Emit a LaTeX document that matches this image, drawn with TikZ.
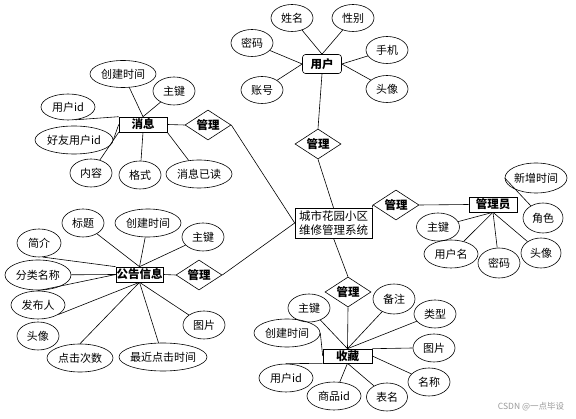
\documentclass[tikz,border=0pt]{standalone}
\usepackage{fontspec}
\setmainfont{Noto Sans CJK SC}
\usetikzlibrary{shapes.geometric}
\begin{document}
\begin{tikzpicture}[x=1pt,y=-1pt,line width=0.6pt,
  attr/.style={ellipse,draw,inner xsep=-6pt,inner ysep=0pt,minimum height=28,font=\fontsize{11}{12}\selectfont},
  ent/.style={rectangle,draw,inner sep=0.5pt,minimum height=15,font=\bfseries\fontsize{11.5}{13}\selectfont},
  rel/.style={diamond,draw,aspect=1.5,inner sep=0pt,minimum width=46,minimum height=30,font=\bfseries\fontsize{11.5}{13}\selectfont}]
\useasboundingbox (0,0) rectangle (576,419);

% central system
\node[ent,minimum width=77,minimum height=30,align=center,inner sep=0pt,font=\fontsize{11.5}{14}\selectfont] (c) at (333.5,223) {城市花园小区\\维修管理系统};

% user
\node[ent,rounded corners=3pt,minimum width=39,minimum height=19] (user) at (322,64) {用户};
\node[attr,minimum width=42,minimum height=27] (u1) at (292,18) {姓名};
\node[attr,minimum width=42,minimum height=27] (u2) at (353,18) {性别};
\node[attr,minimum width=42,minimum height=27] (u3) at (252,43) {密码};
\node[attr,minimum width=42,minimum height=27] (u4) at (387,50) {手机};
\node[attr,minimum width=42,minimum height=27] (u5) at (262,90) {账号};
\node[attr,minimum width=42,minimum height=27] (u6) at (387,89) {头像};
\node[rel] (ud) at (318,144) {管理};
\draw (u1) -- (user.north);
\draw (u2) -- (user.north);
\draw (u3) -- (user.west);
\draw (u5) -- (user.west);
\draw (u4) -- (user.east);
\draw (u6) -- (user.east);
\draw (user.south) -- (ud.north);
\draw (ud.south) -- (c.north);

% admin
\node[rel] (ad) at (396,205) {管理};
\node[ent,minimum width=48] (adm) at (493,204.5) {管理员};
\node[attr,minimum width=62,minimum height=30] (a1) at (536,178) {新增时间};
\node[attr,minimum width=40,minimum height=30] (a2) at (543,218) {角色};
\node[attr,minimum width=43,minimum height=28] (a3) at (438,227) {主键};
\node[attr,minimum width=54,minimum height=28] (a4) at (451,254) {用户名};
\node[attr,minimum width=42,minimum height=30] (a5) at (499,263) {密码};
\node[attr,minimum width=40,minimum height=30] (a6) at (541,253) {头像};
\draw (c.north east) -- (ad.west);
\draw (ad.east) -- (adm.west);
\draw (a1.west) -- (a2.135);
\draw (adm.south) -- (a3);
\draw (adm.south) -- (a4);
\draw (adm.south) -- (a5);
\draw (adm.south) -- (a6);

% message
\node[ent,minimum width=48] (msg) at (143,124.5) {消息};
\node[rel] (md) at (208,125) {管理};
\node[attr,minimum width=66,minimum height=27] (m1) at (123,74) {创建时间};
\node[attr,minimum width=42,minimum height=28] (m2) at (174,91) {主键};
\node[attr,minimum width=54,minimum height=26] (m3) at (68,107) {用户id};
\node[attr,minimum width=78,minimum height=28] (m4) at (74,140) {好友用户id};
\node[attr,minimum width=42,minimum height=28] (m5) at (91,173) {内容};
\node[attr,minimum width=42,minimum height=28] (m6) at (140,175) {格式};
\node[attr,minimum width=66,minimum height=28] (m7) at (199,174) {消息已读};
\draw (m1) -- (msg.north);
\draw (m2) -- (msg.north);
\draw (m3.-60) -- (msg.north west);
\draw (m4.east) -- (msg.west);
\draw (m5) -- (msg.south west);
\draw (m6) -- (msg.south);
\draw (m7) -- (msg.south east);
\draw (msg.east) -- (md.west);
\draw (md.east) -- (c.west);

% notice
\node[ent,minimum width=47] (ntc) at (139.5,274.5) {公告信息};
\node[rel] (nd) at (199,275) {管理};
\node[attr,minimum width=42,minimum height=28] (n1) at (83,223) {标题};
\node[attr,minimum width=66,minimum height=28] (n2) at (148,223) {创建时间};
\node[attr,minimum width=42,minimum height=28] (n3) at (203,237) {主键};
\node[attr,minimum width=44,minimum height=28] (n4) at (39,243) {简介};
\node[attr,minimum width=66,minimum height=30] (n5) at (38,275) {分类名称};
\node[attr,minimum width=54,minimum height=28] (n6) at (38,305) {发布人};
\node[attr,minimum width=42,minimum height=28] (n7) at (38,336) {头像};
\node[attr,minimum width=66,minimum height=28] (n8) at (80,358) {点击次数};
\node[attr,minimum width=88,minimum height=28] (n9) at (163,357) {最近点击时间};
\node[attr,minimum width=42,minimum height=28] (n10) at (204,325) {图片};
\draw (n1) -- (ntc.north);
\draw (n2) -- (ntc.north);
\draw (n3) -- (ntc.north);
\draw (n4.-75) -- (ntc.north west);
\draw (n5) -- (ntc.west);
\draw (n6.north) -- (ntc.west);
\draw (n6.-25) -- (ntc.south);
\draw (n8.north) -- (ntc.south);
\draw (n9) -- (ntc.south);
\draw (n10) -- (ntc.south);
\draw (ntc.east) -- (nd.west);
\draw (nd.east) -- (c.west);

% collection
\node[ent,minimum width=49,minimum height=14] (col) at (347.5,356) {收藏};
\node[rel] (cd) at (348,292) {管理};
\node[attr,minimum width=42,minimum height=28] (k1) at (309,308) {主键};
\node[attr,minimum width=42,minimum height=30] (k2) at (394,299) {备注};
\node[attr,minimum width=42,minimum height=28] (k3) at (435,314) {类型};
\node[attr,minimum width=66,minimum height=28] (k4) at (287,333) {创建时间};
\node[attr,minimum width=42,minimum height=28] (k5) at (434,348) {图片};
\node[attr,minimum width=54,minimum height=28] (k6) at (286,378) {用户id};
\node[attr,minimum width=42,minimum height=28] (k7) at (429,382) {名称};
\node[attr,minimum width=54,minimum height=28] (k8) at (334,396) {商品id};
\node[attr,minimum width=41,minimum height=28] (k9) at (387,397) {表名};
\draw (c.south) -- (cd.north);
\draw (cd.south) -- (col.north);
\draw (k1) -- (col.north);
\draw (k2) -- (col.north);
\draw (k3) -- (col.north);
\draw (k4.east) -- (col.west);
\draw (k5.west) -- (col.north east);
\draw (k6.north) -- (col.south west);
\draw (k7) -- (col.east);
\draw (k8) -- (col.south);
\draw (k9) -- (col.south);

% watermark
\node[text=black!40,font=\fontsize{8.5}{10}\selectfont,inner sep=0pt] (wm) at (531,407) {CSDN @一点毕设};
\end{tikzpicture}
\end{document}
